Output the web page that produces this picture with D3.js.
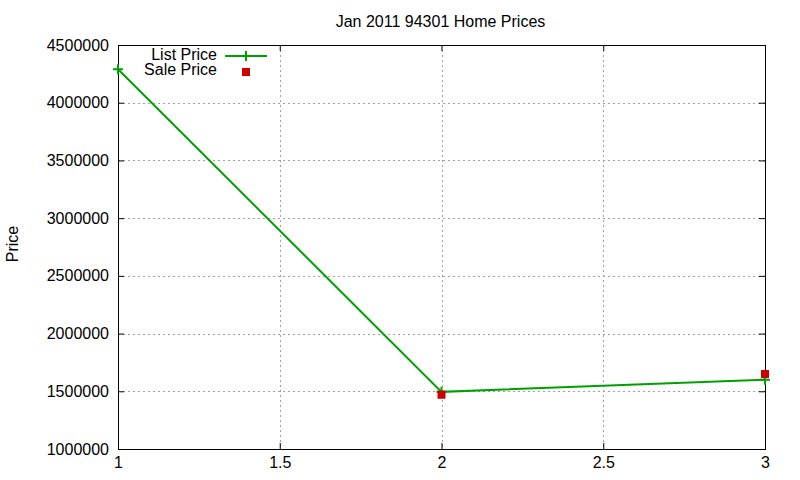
<!DOCTYPE html>
<html>
<head>
<meta charset="utf-8">
<script src="https://cdn.jsdelivr.net/npm/d3@7"></script>
<style>
  body { margin: 0; background: #fff; }
  text { font-family: "Liberation Sans", Arial, sans-serif; }
</style>
</head>
<body>
<svg id="chart" width="800" height="480"></svg>
<script>
// data
const xValues = [1, 2, 3];
const listPrice = [4290000, 1495000, 1600000];
const salePrice = [null, 1470000, 1650000];
const xTicks = [1, 1.5, 2, 2.5, 3];
const yTicks = [1000000, 1500000, 2000000, 2500000, 3000000, 3500000, 4000000, 4500000];

const plotLeft = 118, plotRight = 765, plotTop = 45, plotBottom = 449;

const x = d3.scaleLinear().domain([1, 3]).range([plotLeft, plotRight]);
const y = d3.scaleLinear().domain([1000000, 4500000]).range([plotBottom, plotTop]);

const svg = d3.select('#chart');

// grid (dotted, skipping the borders)
svg.append('g').selectAll('line')
    .data(xTicks.slice(1, -1))
    .enter().append('line')
    .attr('x1', d => Math.round(x(d)) + 0.5).attr('x2', d => Math.round(x(d)) + 0.5)
    .attr('y1', plotTop).attr('y2', plotBottom)
    .attr('stroke', '#a0a0a0').attr('stroke-dasharray', '2,3');

svg.append('g').selectAll('line')
    .data(yTicks.slice(1, -1))
    .enter().append('line')
    .attr('x1', plotLeft).attr('x2', plotRight)
    .attr('y1', d => Math.round(y(d)) + 0.5).attr('y2', d => Math.round(y(d)) + 0.5)
    .attr('stroke', '#a0a0a0').attr('stroke-dasharray', '2,3');

// axes with inward ticks, mirrored on the opposite side
const fmt = d3.format('d');
svg.append('g')
    .attr('transform', `translate(${plotLeft},0)`)
    .call(d3.axisLeft(y).tickValues(yTicks).tickFormat(fmt).tickSizeInner(-6).tickSizeOuter(0).tickPadding(9));
svg.append('g')
    .attr('transform', `translate(${plotRight},0)`)
    .call(d3.axisRight(y).tickValues(yTicks).tickFormat('').tickSizeInner(-6).tickSizeOuter(0));
svg.append('g')
    .attr('transform', `translate(0,${plotBottom})`)
    .call(d3.axisBottom(x).tickValues(xTicks).tickFormat(d3.format('')).tickSizeInner(-6).tickSizeOuter(0).tickPadding(8));
svg.append('g')
    .attr('transform', `translate(0,${plotTop})`)
    .call(d3.axisTop(x).tickValues(xTicks).tickFormat('').tickSizeInner(-6).tickSizeOuter(0));

svg.selectAll('.tick text').attr('font-size', 16).attr('fill', '#000')
    .attr('font-family', '"Liberation Sans", Arial, sans-serif');
svg.selectAll('.domain').remove();

// border
svg.append('rect')
    .attr('x', plotLeft + 0.5).attr('y', plotTop + 0.5)
    .attr('width', plotRight - plotLeft).attr('height', plotBottom - plotTop)
    .attr('fill', 'none').attr('stroke', '#000');

// list price line
const line = d3.line().x((d, i) => x(xValues[i])).y(d => y(d));
svg.append('path')
    .attr('d', line(listPrice))
    .attr('fill', 'none').attr('stroke', '#00a000').attr('stroke-width', 2);

svg.append('g').selectAll('path')
    .data(listPrice)
    .enter().append('path')
    .attr('d', (d, i) => {
      const cx = x(xValues[i]), cy = y(d);
      return `M${cx - 5},${cy}H${cx + 5}M${cx},${cy - 5}V${cy + 5}`;
    })
    .attr('stroke', '#00a000').attr('stroke-width', 2);

// sale price points
svg.append('g').selectAll('rect')
    .data(salePrice.map((d, i) => ({ x: xValues[i], v: d })).filter(d => d.v !== null))
    .enter().append('rect')
    .attr('x', d => x(d.x) - 4).attr('y', d => y(d.v) - 4)
    .attr('width', 8).attr('height', 8)
    .attr('fill', '#cc0000');

// title and y label
svg.append('text')
    .attr('x', (plotLeft + plotRight) / 2 - 1).attr('y', 27)
    .attr('text-anchor', 'middle').attr('font-size', 16)
    .text('Jan 2011 94301 Home Prices');

svg.append('text')
    .attr('transform', 'translate(18,244) rotate(-90)')
    .attr('text-anchor', 'middle').attr('font-size', 16)
    .text('Price');

// legend
const legend = svg.append('g');
legend.append('text').attr('x', 217).attr('y', 60).attr('text-anchor', 'end')
    .attr('font-size', 16).text('List Price');
legend.append('line').attr('x1', 225).attr('x2', 267).attr('y1', 56).attr('y2', 56)
    .attr('stroke', '#00a000').attr('stroke-width', 2);
legend.append('path').attr('d', 'M241,56H251M246,51V61')
    .attr('stroke', '#00a000').attr('stroke-width', 2);
legend.append('text').attr('x', 217).attr('y', 75).attr('text-anchor', 'end')
    .attr('font-size', 16).text('Sale Price');
legend.append('rect').attr('x', 242).attr('y', 68).attr('width', 8).attr('height', 8)
    .attr('fill', '#cc0000');
</script>
</body>
</html>
